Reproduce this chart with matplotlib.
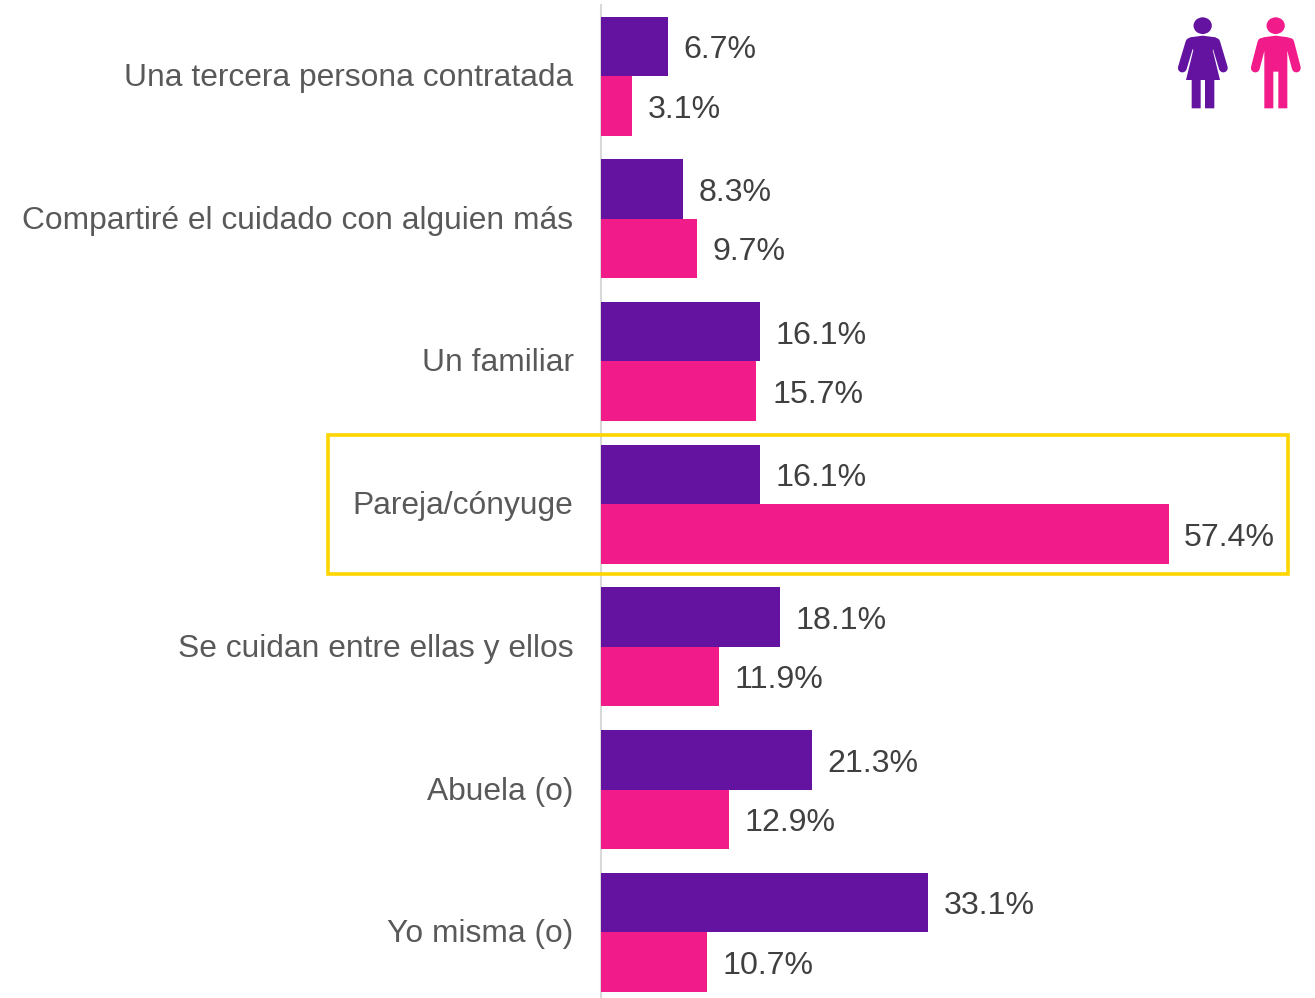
import matplotlib
matplotlib.use("Agg")
import matplotlib.pyplot as plt
from matplotlib.patches import Rectangle, Ellipse, Polygon

categories = ["Una tercera persona contratada", "Compartiré el cuidado con alguien más", "Un familiar",
              "Pareja/cónyuge", "Se cuidan entre ellas y ellos", "Abuela (o)", "Yo misma (o)"]
mujeres = [6.7, 8.3, 16.1, 16.1, 18.1, 21.3, 33.1]
hombres = [3.1, 9.7, 15.7, 57.4, 11.9, 12.9, 10.7]
PURPLE = "#63139F"
PINK = "#F21B8A"
W, H = 1315, 998
plt.rcParams["font.family"] = ["Liberation Sans", "DejaVu Sans"]
fig = plt.figure(figsize=(W/100, H/100), dpi=100)
ppu = (1168.6-601.3)/57.4
ax = fig.add_axes([0, 0, 1, 1])
ax.set_xlim(-601.3/ppu, (W-601.3)/ppu)
ax.set_ylim(H, 0)
ax.axis("off")
step = 142.7
bh = 59.5
for i, c in enumerate(categories):
    mid = 76 + i*step
    ax.barh(mid - bh/2, mujeres[i], height=bh, color=PURPLE, linewidth=0)
    ax.barh(mid + bh/2, hombres[i], height=bh, color=PINK, linewidth=0)
    ax.annotate(f"{mujeres[i]}%", (mujeres[i], mid - bh/2), xytext=(11.2, -2.8), textcoords="offset points",
                va="center", ha="left", fontsize=23.1, color="#404040")
    ax.annotate(f"{hombres[i]}%", (hombres[i], mid + bh/2), xytext=(11.2, -2.8), textcoords="offset points",
                va="center", ha="left", fontsize=23.1, color="#404040")
    ax.annotate(c, (0, mid), xytext=(-20, -1.5), textcoords="offset points",
                va="center", ha="right", fontsize=22.9, color="#595959")
ax.plot([0, 0], [5, 998], color="#D9D9D9", lw=1.5, zorder=0)

# overlay in pixel coordinates for highlight box and icons
ov = fig.add_axes([0, 0, 1, 1])
ov.set_xlim(0, W)
ov.set_ylim(H, 0)
ov.axis("off")
ov.patch.set_alpha(0)
ov.add_patch(Rectangle((328, 435), 960, 139, fill=False, ec="#FFD500", lw=2.6, zorder=5))

def z(pts):
    return [(1160 + x/3, 5 + y/3) for x, y in pts]

def arm(p, q, col):
    (x0, y0), (x1, y1) = z([p, q])
    ov.plot([x0, x1], [y0, y1], color=col, lw=6.4, solid_capstyle="round")

def head(cx, col):
    (x, y), = z([(cx, 62)])
    ov.add_patch(Ellipse((x, y), 18.3, 16.7, fc=col, ec="none"))

# woman
head(128, PURPLE)
ov.add_patch(Polygon(z([(90, 97), (128, 92), (167, 97), (180, 112), (158, 135), (180, 225),
                        (163, 225), (163, 310), (135, 310), (135, 225), (122, 225), (122, 310),
                        (95, 310), (95, 225), (78, 225), (100, 135), (78, 112)]),
                     closed=True, fc=PURPLE, ec="none"))
arm((90, 112), (67, 189), PURPLE)
arm((167, 112), (190, 189), PURPLE)

# man
head(347, PINK)
ov.add_patch(Polygon(z([(310, 97), (347, 92), (385, 97), (402, 112), (382, 140), (382, 310),
                        (355, 310), (355, 200), (340, 200), (340, 310), (313, 310), (313, 140), (293, 112)]),
                     closed=True, fc=PINK, ec="none"))
arm((306, 112), (286, 189), PINK)
arm((389, 112), (409, 189), PINK)

fig.savefig("out.png", dpi=100)
